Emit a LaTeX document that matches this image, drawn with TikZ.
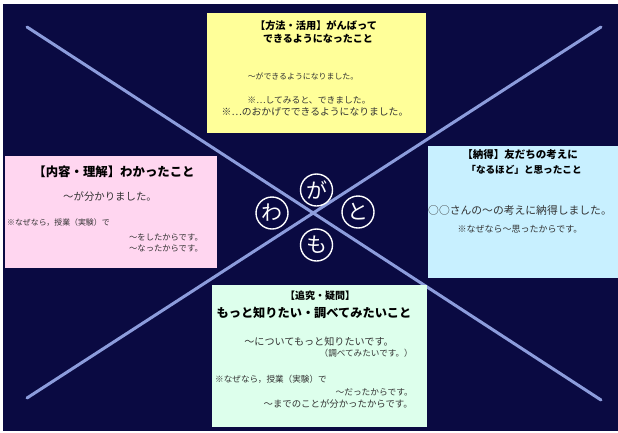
\documentclass[tikz,border=0pt]{standalone}
\usepackage{fontspec}
\setmainfont{Noto Sans CJK JP}
\definecolor{navy}{HTML}{0A0A42}
\definecolor{xline}{HTML}{8C9CDC}
\definecolor{ybox}{HTML}{FFFF99}
\definecolor{pbox}{HTML}{FFD6F0}
\definecolor{cbox}{HTML}{C8F0FF}
\definecolor{gbox}{HTML}{DDFFEC}
\definecolor{bodytxt}{HTML}{333333}
\newcommand\fsz[1]{\fontsize{#1}{#1}\selectfont}
\tikzset{
  panel/.style={anchor=north west, inner sep=0pt, outer sep=0pt},
  ttl/.style={inner sep=0pt, text=black, font=\bfseries},
  bdy/.style={inner sep=0pt, text=bodytxt},
  ring/.style={circle, draw=white, line width=1.4pt, minimum size=32pt, inner sep=0pt, text=white, font=\fsz{21}},
  xl/.style={draw=xline, line width=3pt, line cap=round}
}
\begin{document}
\begin{tikzpicture}[x=1pt,y=-1pt]
\useasboundingbox (0,0) rectangle (618,432);
\fill[white] (0,0) rectangle (618,432);
\fill[navy] (3,4) rectangle (618,431);
% cross lines
\coordinate (tl) at (27,27);
\coordinate (br) at (601,400);
\coordinate (tr) at (601,27);
\coordinate (bl) at (27,398);
\draw[xl] (tl) -- (br);
\draw[xl] (tr) -- (bl);
% panels
\node[panel, fill=ybox, minimum width=219pt, minimum height=120pt] (ypanel) at (207,13) {};
\node[panel, fill=pbox, minimum width=212pt, minimum height=112pt] (ppanel) at (5,156) {};
\node[panel, fill=cbox, minimum width=190pt, minimum height=132pt] (cpanel) at (428,146) {};
\node[panel, fill=gbox, minimum width=215pt, minimum height=142pt] (gpanel) at (212,285) {};
% yellow texts
\node[ttl, font=\bfseries\fsz{10.2}] (yt1) at (316,26) {【方法・活用】がんばって};
\node[ttl, font=\bfseries\fsz{10}] (yt2) at (318,38.5) {できるようになったこと};
\node[bdy, font=\fsz{7.9}] (yb1) at (303,76) {〜ができるようになりました。};
\node[bdy, font=\fsz{8.8}] (yb2) at (309,100) {※…してみると、できました。};
\node[bdy, font=\fsz{9.8}] (yb3) at (315,112) {※…のおかげでできるようになりました。};
% pink texts
\node[ttl, font=\bfseries\fsz{12.4}] (pt1) at (114,172) {【内容・理解】わかったこと};
\node[bdy, font=\fsz{10.4}] (pb1) at (110,197) {〜が分かりました。};
\node[bdy, font=\fsz{7.9}, anchor=west] (pb2) at (7,223) {※なぜなら，授業（実験）で};
\node[bdy, font=\fsz{8.3}, anchor=east] (pb3) at (203,237) {〜をしたからです。};
\node[bdy, font=\fsz{8.3}, anchor=east] (pb4) at (203,248) {〜なったからです。};
% cyan texts
\node[ttl, font=\bfseries\fsz{10.5}] (ct1) at (520,155) {【納得】友だちの考えに};
\node[ttl, font=\bfseries\fsz{9.6}] (ct2) at (524,170) {「なるほど」と思ったこと};
\node[bdy, font=\fsz{10.8}] (cb1) at (520,210) {○○さんの〜の考えに納得しました。};
\node[bdy, font=\fsz{9}] (cb2) at (520,229) {※なぜなら〜思ったからです。};
% green texts
\node[ttl, font=\bfseries\fsz{10}] (gt1) at (320,296) {【追究・疑問】};
\node[ttl, font=\bfseries\fsz{12.2}] (gt2) at (314,313) {もっと知りたい・調べてみたいこと};
\node[bdy, font=\fsz{10.1}] (gb1) at (319,342) {〜についてもっと知りたいです。};
\node[bdy, font=\fsz{8.6}, anchor=east] (gb2) at (413,353) {（調べてみたいです。）};
\node[bdy, font=\fsz{8.6}, anchor=west] (gb3) at (215,379) {※なぜなら，授業（実験）で};
\node[bdy, font=\fsz{8.7}, anchor=east] (gb4) at (413,392) {〜だったからです。};
\node[bdy, font=\fsz{9.4}, anchor=east] (gb5) at (413,404) {〜までのことが分かったからです。};
% circled letters
\node[ring] (ga) at (316.5,190) {が};
\node[ring] (wa) at (272,213) {わ};
\node[ring] (to) at (358,212) {と};
\node[ring] (mo) at (316.5,245) {も};
\end{tikzpicture}
\end{document}
